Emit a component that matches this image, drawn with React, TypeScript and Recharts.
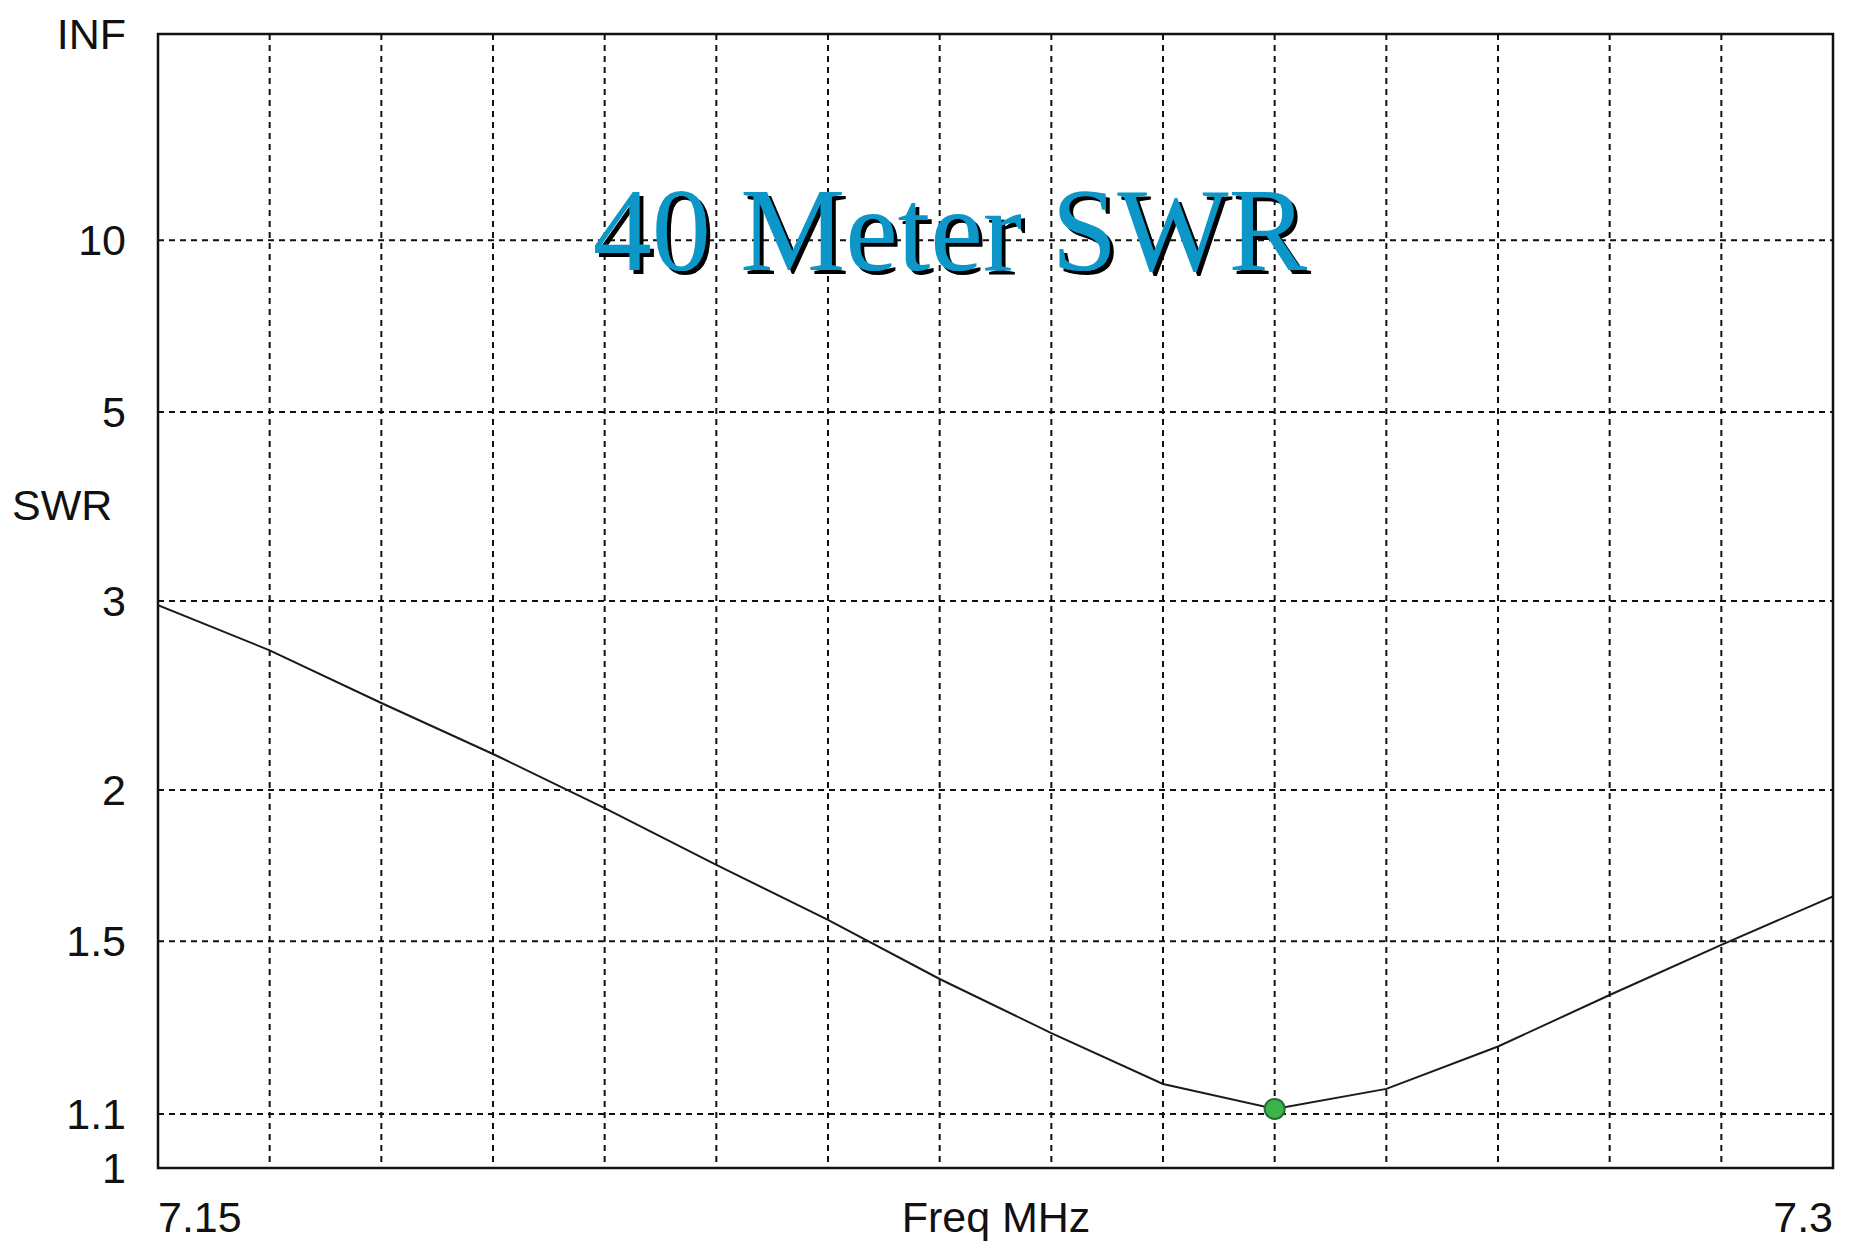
import {
  CartesianGrid,
  Line,
  LineChart,
  ReferenceArea,
  XAxis,
  YAxis,
} from "recharts";

const FREQ = [
  7.15, 7.16, 7.17, 7.18, 7.19, 7.2, 7.21, 7.22, 7.23, 7.24, 7.25, 7.26, 7.27,
  7.28, 7.29, 7.3,
];
const SWR = [
  2.97, 2.68, 2.39, 2.15, 1.93, 1.73, 1.56, 1.4, 1.27, 1.16, 1.11, 1.15, 1.24,
  1.36, 1.49, 1.63,
];
const Y_TICK_SWR = [1, 1.1, 1.5, 2, 3, 5, 10, Infinity];
const Y_TICK_LABELS = ["1", "1.1", "1.5", "2", "3", "5", "10", "INF"];
const X_LABELS: Record<string, string> = { "7.15": "7.15", "7.3": "7.3" };

const TITLE = "40 Meter SWR";
const Y_TITLE = "SWR";
const X_TITLE = "Freq MHz";

const W = 1849;
const H = 1250;
const SANS = '"Liberation Sans", Arial, sans-serif';
const SERIF = '"Liberation Serif", "Times New Roman", serif';

// the plot is linear in reflection coefficient, like the antenna program draws it
function toRho(swr: number): number {
  if (!isFinite(swr)) return 1;
  return (swr - 1) / (swr + 1);
}

const data = FREQ.map((freq, i) => ({ freq, swr: SWR[i] }));
const minIdx = SWR.indexOf(Math.min(...SWR));
const yTicks = Y_TICK_SWR.map(toRho);

function XTick(props: any) {
  const { x, y, payload } = props;
  const label = X_LABELS[String(payload.value)];
  if (!label) return <g />;
  const first = payload.value === FREQ[0];
  return (
    <text
      x={x}
      y={y}
      dy={64}
      textAnchor={first ? "start" : "end"}
      fontFamily={SANS}
      fontSize={43}
      fill="#111"
    >
      {label}
    </text>
  );
}

function MinDot(props: any) {
  const { cx, cy, index } = props;
  if (index !== minIdx) return <g key={index} />;
  return (
    <circle
      key={index}
      cx={cx}
      cy={cy}
      r={10}
      fill="#3bb54a"
      stroke="#2e6b3b"
      strokeWidth={2}
    />
  );
}

export default function App() {
  return (
    <div
      style={{
        position: "absolute",
        left: 0,
        top: 0,
        width: W,
        height: H,
        background: "#fff",
      }}
    >
      <LineChart
        width={W}
        height={H}
        data={data}
        margin={{ top: 34, right: 16, bottom: 0, left: 0 }}
      >
        <CartesianGrid
          stroke="#111"
          strokeWidth={2}
          strokeDasharray="6 5"
        />
        <XAxis
          type="number"
          dataKey="freq"
          domain={[7.15, 7.3]}
          ticks={FREQ}
          interval={0}
          height={82}
          tick={<XTick />}
          tickLine={false}
          axisLine={false}
          tickSize={0}
          tickMargin={0}
          allowDataOverflow
        />
        <YAxis
          type="number"
          domain={[0, 1]}
          ticks={yTicks}
          interval={0}
          width={158}
          tickLine={false}
          axisLine={false}
          tickSize={0}
          tickMargin={32}
          tickFormatter={(v: number) => {
            const i = yTicks.findIndex((t) => Math.abs(t - v) < 1e-6);
            return i >= 0 ? Y_TICK_LABELS[i] : "";
          }}
          tick={{ fontFamily: SANS, fontSize: 43, fill: "#111" }}
        />
        <ReferenceArea
          x1={7.15}
          x2={7.3}
          y1={0}
          y2={1}
          fill="none"
          stroke="#111"
          strokeWidth={2.5}
          ifOverflow="extendDomain"
        />
        <Line
          type="linear"
          dataKey={(d: { swr: number }) => toRho(d.swr)}
          stroke="#1a1a1a"
          strokeWidth={2}
          dot={MinDot}
          activeDot={false}
          isAnimationActive={false}
        />
      </LineChart>
      <svg
        width={W}
        height={H}
        style={{ position: "absolute", left: 0, top: 0, pointerEvents: "none" }}
      >
        <defs>
          <filter id="titleShadow" x="-5%" y="-20%" width="110%" height="140%">
            <feDropShadow
              dx={4}
              dy={4}
              stdDeviation={0}
              floodColor="#000"
              floodOpacity={1}
            />
          </filter>
        </defs>
        <text
          x={950}
          y={270}
          textAnchor="middle"
          fontFamily={SERIF}
          fontSize={118}
          fill="#0a97c9"
          filter="url(#titleShadow)"
        >
          {TITLE}
        </text>
        <text x={12} y={520} fontFamily={SANS} fontSize={43} fill="#111">
          {Y_TITLE}
        </text>
        <text
          x={996}
          y={1232}
          textAnchor="middle"
          fontFamily={SANS}
          fontSize={43}
          fill="#111"
        >
          {X_TITLE}
        </text>
      </svg>
    </div>
  );
}
